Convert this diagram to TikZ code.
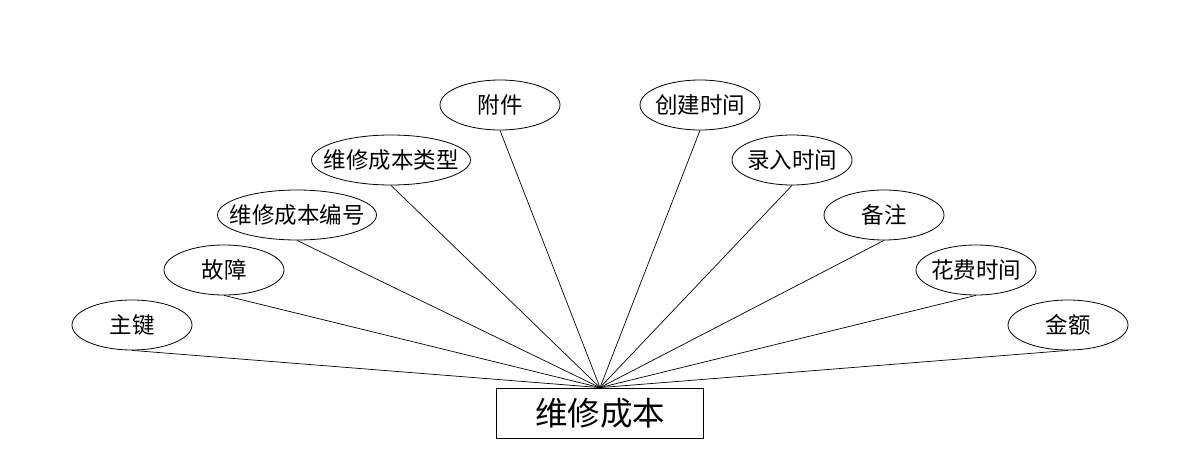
\documentclass[tikz,border=0pt]{standalone}
\usepackage{fontspec}
\usepackage{tikz}
\usetikzlibrary{shapes.geometric}
\newfontfamily\cjk{Noto Sans CJK SC}

\begin{document}
\begin{tikzpicture}[
			x=1pt, y=-1pt,
			every node/.style={font=\cjk\fontsize{22.5}{26}\selectfont},
			attr/.style={ellipse, draw=black, line width=0.8pt, minimum width=120pt, minimum height=50pt, inner xsep=-6pt, inner ysep=0pt},
			wideattr/.style={attr, minimum width=159pt, inner xsep=-14pt},
			entity/.style={rectangle, draw=black, line width=0.8pt, minimum width=207pt, minimum height=50pt, inner sep=0pt, font=\cjk\fontsize{32.5}{36}\selectfont},
			link/.style={draw=black, line width=0.7pt}
			]
			
			\useasboundingbox (0,0) rectangle (1200,468);
			
			% Entity
			\node[entity] (cost) at (600,413) {维修成本};
			
			% Left attributes
			\node[attr] (key) at (132,325) {主键};
			\node[attr] (fault) at (224,270) {故障};
			\node[wideattr] (costno) at (297,215) {维修成本编号};
			\node[wideattr] (costtype) at (391,160) {维修成本类型};
			\node[attr] (attach) at (500,105) {附件};
			
			% Right attributes
			\node[attr] (created) at (700,105) {创建时间};
			\node[attr] (entered) at (792,160) {录入时间};
			\node[attr] (remark) at (884,215) {备注};
			\node[attr] (spent) at (976,270) {花费时间};
			\node[attr] (amount) at (1068,325) {金额};
			
			% Links
			\draw[link] (key.south) -- (cost.north);
			\draw[link] (fault.south) -- (cost.north);
			\draw[link] (costno.south) -- (cost.north);
			\draw[link] (costtype.south) -- (cost.north);
			\draw[link] (attach.south) -- (cost.north);
			\draw[link] (created.south) -- (cost.north);
			\draw[link] (entered.south) -- (cost.north);
			\draw[link] (remark.south) -- (cost.north);
			\draw[link] (spent.south) -- (cost.north);
			\draw[link] (amount.south) -- (cost.north);
			
		\end{tikzpicture}
\end{document}
